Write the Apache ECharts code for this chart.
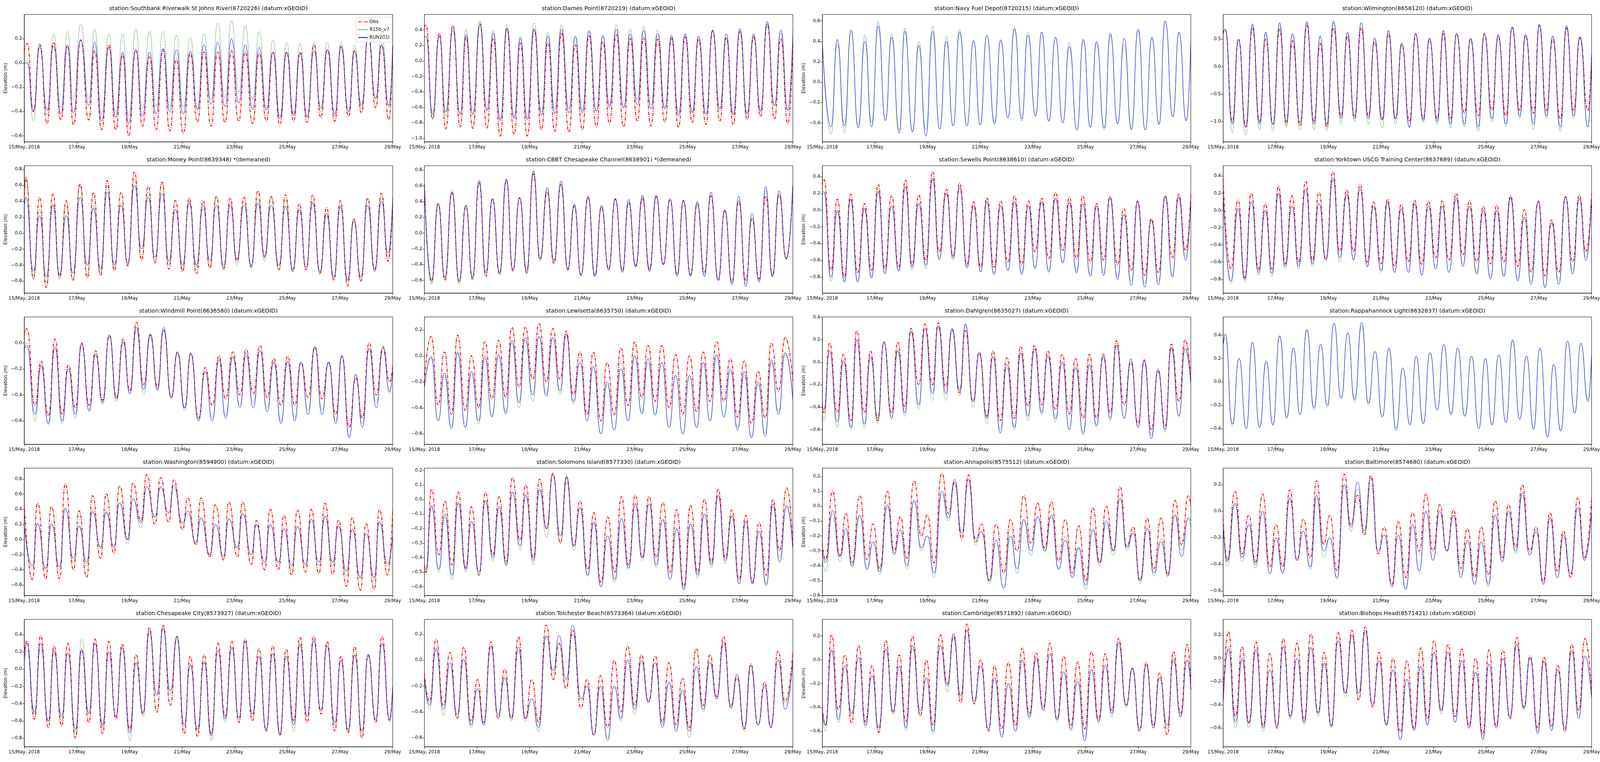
<!DOCTYPE html>
<html><head><meta charset="utf-8">
<script src="https://cdn.jsdelivr.net/npm/echarts@6/dist/echarts.min.js"></script>
<style>html,body{margin:0;padding:0;background:#fff;overflow:hidden;}#c{position:absolute;left:0;top:0;}</style>
</head><body><div id="c"></div>
<script>
// Time axis: hours since 15/May/2018 00:00 (0..336). Values: water elevation in cm (drawn as m).
const X_LABELS = ['15/May, 2018','17/May','19/May','21/May','23/May','25/May','27/May','29/May'];
const SERIES_NAMES = ['Obs','R15b_v7','RUN201l'];
const TITLES = [
 'station:Southbank Riverwalk St Johns River(8720226) (datum:xGEOID)',
 'station:Dames Point(8720219) (datum:xGEOID)',
 'station:Navy Fuel Depot(8720215) (datum:xGEOID)',
 'station:Wilmington(8658120) (datum:xGEOID)',
 'station:Money Point(8639348) *(demeaned)',
 'station:CBBT Chesapeake Channel(8638901) *(demeaned)',
 'station:Sewells Point(8638610) (datum:xGEOID)',
 'station:Yorktown USCG Training Center(8637689) (datum:xGEOID)',
 'station:Windmill Point(8636580) (datum:xGEOID)',
 'station:Lewisetta(8635750) (datum:xGEOID)',
 'station:Dahlgren(8635027) (datum:xGEOID)',
 'station:Rappahannock Light(8632837) (datum:xGEOID)',
 'station:Washington(8594900) (datum:xGEOID)',
 'station:Solomons Island(8577330) (datum:xGEOID)',
 'station:Annapolis(8575512) (datum:xGEOID)',
 'station:Baltimore(8574680) (datum:xGEOID)',
 'station:Chesapeake City(8573927) (datum:xGEOID)',
 'station:Tolchester Beach(8573364) (datum:xGEOID)',
 'station:Cambridge(8571892) (datum:xGEOID)',
 'station:Bishops Head(8571421) (datum:xGEOID)'
];
const Y_MIN = [-0.65,-1.045,-0.586,-1.37,-0.75,-0.76,-0.99,-0.96,-0.78,-0.68,-0.73,-0.534,-0.74,-0.66,-0.60,-0.635,-0.90,-0.668,-0.73,-0.76];
const Y_MAX = [0.40,0.60,0.664,0.95,0.846,0.855,0.53,0.52,0.20,0.30,0.402,0.556,0.945,0.215,0.255,0.325,0.577,0.314,0.34,0.334];
const Y_TICKS = [
 [-0.6,-0.4,-0.2,0,0.2],[-1.0,-0.8,-0.6,-0.4,-0.2,0,0.2,0.4],[-0.4,-0.2,0,0.2,0.4,0.6],[-1.0,-0.5,0,0.5],
 [-0.6,-0.4,-0.2,0,0.2,0.4,0.6,0.8],[-0.6,-0.4,-0.2,0,0.2,0.4,0.6,0.8],[-0.8,-0.6,-0.4,-0.2,0,0.2,0.4],[-0.8,-0.6,-0.4,-0.2,0,0.2,0.4],
 [-0.6,-0.4,-0.2,0],[-0.6,-0.4,-0.2,0,0.2],[-0.6,-0.4,-0.2,0,0.2,0.4],[-0.4,-0.2,0,0.2,0.4],
 [-0.6,-0.4,-0.2,0,0.2,0.4,0.6,0.8],[-0.6,-0.5,-0.4,-0.3,-0.2,-0.1,0,0.1,0.2],[-0.6,-0.5,-0.4,-0.3,-0.2,-0.1,0,0.1,0.2],[-0.6,-0.4,-0.2,0,0.2],
 [-0.8,-0.6,-0.4,-0.2,0,0.2,0.4],[-0.6,-0.4,-0.2,0,0.2],[-0.6,-0.4,-0.2,0,0.2],[-0.6,-0.4,-0.2,0,0.2]
];

// ---- Panel 1 Southbank Riverwalk
const T1=[0,2.8,8.3,14.2,20.8,26.7,33.5,39.4,44.9,51.5,58.8,64.2,70.6,77.2,83.4,89.8,95.2,101.8,107.7,114.3,120.2,126.6,132.7,138.7,145.0,151.4,158.0,163.9,170.3,176.4,183.1,189.0,195.6,201.5,208.3,214.2,220.8,226.8,233.1,239.3,245.6,251.6,257.9,264.3,270.5,276.4,283.2,288.9,295.8,301.2,307.5,313.7,320.5,325.9,332.6,336];
const OBS1=[10,16,-40,15,-50,17,-47,15,-51,19,-47,10,-55,15,-55,7,-60,11,-52,5,-55,11,-56,3,-58,8,-49,9,-52,9,-49,10,-48,9,-50,8,-48,9,-51,9,-48,9,-49,15,-45,11,-48,14,-44,10,-41,22,-37,15,-47,15];
const R15_1=[0,2,-48,16,-43,24,-37,26,-30,32,-29,28,-42,24,-42,24,-44,28,-37,26,-36,26,-36,23,-37,21,-39,24,-30,33,-29,35,-24,31,-30,26,-38,19,-44,17,-42,16,-45,17,-40,17,-43,17,-40,15,-38,26,-30,24,-37,10];
const RUN1=[0,0,-40,13,-39,14,-42,14,-41,19,-35,17,-48,13,-45,9,-50,11,-44,9,-42,12,-40,11,-42,10,-38,15,-34,17,-36,20,-33,15,-38,13,-39,9,-46,9,-43,8,-44,10,-37,11,-42,13,-40,10,-35,22,-29,15,-35,15];
// ---- Panel 2 Dames Point
const T2=[0,1.4,7.5,13.6,19.5,26.0,32.6,38.0,44.1,50.7,57.0,62.8,69.2,75.3,81.8,87.5,93.8,100.1,106.7,112.6,118.9,125.0,131.8,137.6,144.0,150.1,156.9,162.7,168.8,174.9,181.7,187.6,194.2,200.0,206.6,212.7,219.3,225.4,231.7,237.8,244.3,250.0,256.8,262.9,269.4,275.3,281.6,287.7,294.3,300.2,306.5,312.6,319.2,325.0,331.4,336];
const OBS2=[43,47,-75,36,-88,46,-85,31,-87,48,-87,29,-97,42,-95,23,-97,41,-89,24,-91,36,-92,21,-89,33,-85,25,-81,34,-85,29,-78,30,-84,28,-79,29,-86,31,-80,28,-82,39,-78,30,-82,38,-76,31,-72,47,-75,29,-81,20];
const R15_2=[30,32,-75,32,-71,46,-69,41,-68,52,-63,40,-75,47,-72,32,-73,49,-66,37,-62,47,-62,33,-64,40,-64,33,-57,47,-60,41,-50,45,-57,40,-60,34,-67,35,-66,32,-68,38,-65,30,-71,39,-70,33,-64,48,-58,36,-63,30];
const RUN2=[30,32,-69,32,-66,40,-69,34,-69,46,-64,36,-77,42,-74,29,-76,41,-70,32,-68,41,-67,31,-67,38,-65,32,-60,41,-61,35,-57,39,-62,35,-62,32,-71,35,-67,32,-69,40,-62,35,-69,42,-68,35,-65,51,-58,40,-64,40];
// ---- Panel 3 Navy Fuel Depot (no obs)
const T3=[0,7.9,13.6,20.1,26.2,32.7,38.8,44.9,50.9,57.5,63.1,70.1,75.2,82.2,87.9,94.4,100.5,107.0,113.1,119.2,125.2,131.8,137.9,143.9,150.0,157.0,162.6,169.2,175.2,181.8,187.4,194.4,200.0,206.5,212.6,219.2,225.2,232.2,237.9,244.4,250.0,257.0,262.6,269.2,275.2,281.8,287.9,294.4,300.5,307.0,312.6,319.6,325.2,331.8,336];
const OBS3=null;
const R15_3=[37,-51,38,-50,49,-42,46,-40,59,-37,47,-47,53,-48,40,-47,55,-46,45,-43,52,-43,40,-42,46,-42,42,-35,54,-38,49,-34,49,-39,44,-40,39,-47,41,-45,38,-47,46,-40,37,-47,50,-47,43,-42,60,-34,48,-37,35];
const RUN3=[40,-44,42,-43,51,-45,40,-44,55,-38,44,-50,50,-49,36,-53,50,-46,40,-43,49,-43,41,-42,46,-40,41,-35,52,-36,46,-33,49,-38,44,-40,35,-47,42,-44,40,-45,48,-41,43,-46,52,-47,44,-41,60,-34,49,-38,43];
// ---- Panel 4 Wilmington
const T4=[0,1.9,8.4,14.0,20.6,26.7,33.2,38.8,45.4,51.5,57.6,63.2,70.2,76.3,82.8,88.5,94.5,100.6,107.6,113.3,119.8,125.9,132.4,138.1,145.1,150.7,157.2,162.9,169.9,175.5,182.5,188.1,195.2,200.8,207.3,212.9,220.0,225.6,232.6,238.2,245.2,250.8,257.9,263.5,270.5,275.7,283.1,288.3,294.8,300.5,307.5,313.1,319.6,325.3,332.7,336];
const OBS4=[60,68,-100,50,-110,70,-100,50,-105,68,-105,47,-108,75,-100,42,-110,70,-90,55,-95,70,-90,45,-95,60,-95,40,-100,60,-95,50,-95,60,-95,60,-85,50,-90,60,-80,55,-90,72,-80,57,-85,75,-80,50,-95,70,-80,52,-80,20];
const R15_4=[60,68,-120,50,-125,75,-115,60,-117,75,-110,58,-115,80,-115,55,-117,80,-105,60,-100,80,-105,52,-112,65,-105,43,-112,60,-102,52,-105,65,-112,60,-110,50,-118,60,-100,58,-110,70,-95,58,-115,75,-95,55,-118,72,-95,52,-110,20];
const RUN4=[60,68,-105,50,-110,78,-105,63,-105,80,-100,60,-102,82,-105,56,-105,83,-95,63,-90,80,-95,52,-98,66,-95,43,-110,60,-98,52,-100,66,-105,60,-105,52,-110,60,-95,58,-105,72,-90,58,-105,77,-90,56,-110,75,-90,55,-110,30];
// ---- Panel 5 Money Point
const T5=[0,1.4,8.4,14.0,20.1,26.2,32.2,38.3,44.4,50.9,57.5,63.1,69.6,75.7,82.2,88.3,94.4,100.5,107.0,113.1,119.2,125.7,131.8,137.9,144.4,150.5,157.0,163.1,169.2,175.2,181.8,187.9,193.9,200.5,207.0,213.1,219.2,225.2,232.2,238.3,244.9,250.9,257.0,263.1,269.6,275.7,282.3,288.3,294.9,300.5,307.0,313.1,319.6,325.7,331.8,336];
const OBS5=[40,69,-56,45,-68,49,-55,41,-59,62,-56,51,-53,66,-47,51,-41,77,-34,59,-37,64,-45,41,-48,44,-51,41,-44,46,-44,44,-35,45,-42,53,-30,46,-46,48,-48,37,-46,48,-50,32,-59,41,-66,18,-60,44,-45,50,-35,36];
const R15_5=[45,72,-58,30,-62,37,-58,33,-58,59,-52,33,-50,60,-45,38,-40,68,-30,52,-35,62,-40,30,-45,40,-43,31,-42,46,-47,38,-40,40,-44,44,-35,44,-45,42,-49,30,-43,40,-52,22,-58,35,-60,19,-58,43,-47,45,-30,40];
const RUN5=[30,45,-48,22,-55,35,-52,22,-50,45,-40,31,-45,52,-40,35,-38,60,-20,45,-30,50,-35,30,-40,38,-40,35,-35,35,-41,35,-33,35,-40,38,-28,35,-40,34,-45,30,-43,38,-48,25,-55,33,-58,15,-55,35,-48,40,-25,45];
// ---- Panel 6 CBBT
const T6=[0,6.5,12.6,18.7,25.2,31.7,37.8,43.9,49.9,56.0,62.1,68.6,74.7,80.7,86.8,93.3,99.4,105.5,112.0,118.1,124.6,130.7,136.7,142.8,149.3,155.4,161.5,168.0,174.1,180.6,186.2,192.7,198.8,205.3,211.4,217.9,224.0,230.5,236.2,242.7,248.8,255.3,261.3,267.9,273.9,280.5,286.6,293.1,298.7,305.2,311.3,317.4,323.4,330.0,336];
const OBS6=[62,-62,38,-60,51,-62,34,-58,64,-55,43,-52,67,-48,45,-50,75,-33,52,-39,62,-46,34,-53,45,-54,33,-46,43,-48,39,-41,44,-46,46,-39,42,-52,41,-53,37,-50,47,-60,28,-62,40,-60,18,-58,47,-55,49,-32,60];
const R15_6=[60,-65,36,-58,55,-65,36,-60,68,-52,44,-50,69,-47,44,-52,77,-36,55,-37,60,-48,35,-53,45,-52,33,-44,43,-47,40,-42,46,-47,45,-40,42,-52,42,-53,38,-53,48,-58,28,-62,42,-65,20,-60,55,-52,49,-33,60];
const RUN6=[62,-60,36,-56,52,-60,35,-56,66,-50,44,-52,68,-46,45,-47,79,-32,58,-35,66,-45,37,-54,47,-55,35,-47,44,-50,43,-43,48,-49,48,-40,44,-55,42,-55,40,-55,52,-60,30,-65,47,-68,25,-62,59,-55,54,-33,65];
// ---- Panel 7 Sewells Point
const T7=[0,1.4,7.9,13.6,20.1,25.7,32.2,38.3,44.9,50.9,57.0,63.1,69.6,75.7,81.8,87.9,94.4,100.5,106.5,113.1,119.2,125.2,131.8,137.9,144.4,150.0,156.5,162.6,169.2,175.2,181.8,187.9,193.9,200.0,206.5,212.6,219.2,225.2,231.8,237.4,244.4,250.0,256.5,262.2,269.2,274.8,281.8,287.4,293.9,300.0,306.5,312.6,319.2,324.8,331.3,336];
const OBS7=[30,37,-72,13,-80,19,-75,8,-72,31,-70,17,-68,36,-65,18,-60,46,-50,25,-55,32,-65,10,-68,15,-68,11,-62,17,-65,11,-50,14,-58,21,-48,15,-58,17,-62,8,-60,16,-65,2,-72,11,-78,-10,-75,17,-57,19,-48,20];
const R15_7=[18,20,-85,-2,-87,12,-87,0,-82,25,-77,5,-72,28,-72,8,-70,37,-60,20,-60,27,-70,5,-73,10,-75,5,-72,10,-75,5,-68,10,-72,14,-62,10,-73,8,-77,5,-75,14,-80,-5,-85,10,-88,-12,-85,15,-78,15,-55,15];
const RUN7=[20,22,-80,0,-85,13,-85,2,-80,22,-75,5,-73,28,-68,8,-66,38,-58,20,-57,27,-68,5,-74,10,-77,5,-72,10,-77,5,-70,10,-74,14,-63,9,-75,8,-79,5,-78,15,-83,-5,-90,10,-92,-12,-89,17,-80,16,-60,15];
// ---- Panel 8 Yorktown
const T8=[0,7.0,13.6,19.7,25.7,32.3,38.4,44.5,50.5,56.6,62.7,68.8,75.3,81.4,87.5,93.6,100.2,106.2,112.8,118.9,124.9,131.5,137.1,144.1,149.8,156.3,162.4,168.9,174.6,181.1,187.2,193.8,199.8,205.9,212.5,218.6,224.6,231.2,237.3,243.8,249.4,256.0,262.1,268.6,274.7,280.8,287.4,293.4,299.5,306.1,312.2,318.7,324.8,330.9,336];
const OBS8=[37,-68,12,-78,20,-68,8,-68,28,-62,17,-60,34,-58,21,-57,45,-48,24,-48,30,-60,10,-62,13,-65,7,-60,12,-63,11,-55,11,-58,20,-52,11,-60,5,-62,6,-60,17,-65,1,-72,11,-76,-11,-72,16,-60,18,-48,20];
const R15_8=[20,-85,0,-83,10,-75,0,-77,20,-68,5,-68,25,-65,8,-60,35,-60,20,-58,25,-66,5,-72,8,-72,2,-72,8,-75,5,-68,5,-72,13,-62,5,-72,0,-78,0,-75,14,-80,-8,-83,10,-88,-15,-82,15,-70,13,-55,15];
const RUN8=[20,-82,2,-80,10,-72,0,-73,20,-65,5,-65,25,-62,8,-57,38,-55,18,-57,25,-65,5,-70,10,-72,2,-72,8,-75,5,-68,5,-72,15,-65,5,-74,0,-80,0,-77,15,-82,-8,-86,10,-90,-14,-86,16,-74,14,-58,15];
// ---- Panel 9 Windmill Point
const T9=[0,2.3,9.8,15.4,22.0,28.0,34.6,40.2,46.7,52.3,59.3,65.0,71.5,77.6,84.1,90.2,96.3,102.3,108.9,115.0,121.5,127.1,134.1,139.7,146.3,151.9,158.9,165.0,171.5,177.6,183.6,190.2,196.7,202.3,208.9,215.0,221.5,227.6,234.1,240.2,246.7,252.3,258.9,265.0,271.5,277.6,284.1,289.7,296.3,302.3,308.4,314.5,321.0,327.1,333.2,336];
const OBS9=[5,11,-48,-14,-56,3,-55,-17,-50,0,-48,-6,-44,6,-42,3,-37,16,-32,6,-34,10,-42,-7,-50,-8,-58,-19,-48,-10,-43,-7,-40,-5,-39,-2,-42,-12,-48,-10,-48,-15,-42,-3,-43,-15,-55,-10,-65,-27,-58,0,-40,-3,-30,-17];
const R15_9=[-5,0,-60,-18,-63,-5,-62,-20,-58,-1,-53,-8,-47,5,-45,0,-39,10,-40,5,-37,9,-43,-8,-52,-9,-60,-22,-58,-12,-56,-10,-48,-10,-46,-6,-50,-15,-60,-15,-58,-15,-52,-4,-52,-15,-60,-10,-72,-25,-62,-5,-46,-6,-37,-20];
const RUN9=[-5,-2,-55,-17,-62,-3,-60,-20,-55,-1,-52,-9,-46,6,-43,1,-39,12,-36,7,-36,12,-42,-7,-50,-8,-60,-22,-60,-13,-58,-11,-50,-8,-50,-6,-53,-15,-62,-14,-60,-15,-55,-3,-55,-15,-62,-10,-73,-24,-65,-4,-50,-4,-38,-20];
// ---- Panel 10 Lewisetta
const T10=[0,6.1,12.6,18.2,24.7,30.3,37.3,42.9,49.5,55.1,61.6,67.7,74.2,79.8,86.3,91.9,98.9,104.5,111.1,117.1,123.7,129.3,135.8,141.9,148.4,154.0,161.0,166.6,173.1,179.2,185.7,191.8,198.3,203.9,210.5,216.5,223.1,229.1,235.7,241.7,248.3,254.3,260.4,266.5,273.0,279.1,285.6,291.7,298.2,304.3,310.8,316.4,322.9,329.0,336];
const OBS10=[-20,15,-38,3,-45,16,-42,0,-40,11,-33,12,-32,22,-24,22,-18,25,-20,21,-18,19,-30,3,-45,3,-50,-5,-45,6,-38,11,-32,8,-35,8,-40,1,-45,0,-43,3,-35,11,-35,-2,-47,-4,-52,-12,-48,10,-27,14,-20];
const R15_10=[-25,0,-50,-15,-57,2,-55,-14,-52,-2,-46,0,-45,10,-40,12,-35,15,-32,14,-30,16,-37,-5,-50,-8,-60,-22,-57,-5,-50,0,-45,-5,-46,-5,-55,-15,-60,-15,-55,-5,-50,0,-47,-12,-55,-15,-62,-22,-60,-5,-43,3,-33];
const RUN10=[-25,-1,-50,-13,-55,3,-55,-12,-50,0,-47,1,-44,12,-36,14,-30,15,-30,14,-27,17,-35,-5,-50,-8,-60,-20,-57,-10,-50,0,-44,-2,-45,-5,-55,-15,-60,-15,-55,-5,-50,1,-47,-10,-57,-12,-63,-20,-62,-3,-45,2,-35];
// ---- Panel 11 Dahlgren
const T11=[0,1.4,6.5,13.6,19.2,26.2,31.3,38.3,43.9,50.5,56.1,63.1,68.7,75.2,80.8,87.9,93.5,100.5,105.6,112.6,118.2,125.2,130.4,137.4,143.0,150.0,155.6,162.2,168.2,175.2,180.8,187.4,193.5,200.0,205.6,212.6,218.7,225.2,230.8,237.9,243.5,250.0,256.1,262.6,268.2,275.2,281.3,287.9,293.5,300.0,306.1,312.6,318.2,325.2,330.8,336];
const OBS11=[-38,-45,17,-45,7,-52,28,-45,10,-52,18,-45,18,-40,30,-20,34,-20,35,-22,29,-27,28,-35,9,-48,10,-52,4,-50,14,-39,15,-38,10,-42,7,-46,3,-50,7,-50,7,-45,19,-38,0,-55,2,-60,-8,-57,16,-35,20,-15];
const R15_11=[-45,-52,10,-58,0,-60,20,-58,5,-55,18,-50,12,-48,28,-42,30,-34,32,-34,28,-30,33,-40,8,-55,5,-60,-5,-60,10,-52,12,-47,5,-53,0,-60,-3,-65,-2,-58,5,-52,17,-50,0,-58,0,-65,-5,-62,12,-48,15,-20];
const RUN11=[-38,-42,10,-53,1,-58,20,-55,5,-50,18,-50,10,-45,27,-38,30,-28,32,-28,30,-25,34,-35,8,-50,5,-63,-2,-58,8,-48,12,-45,6,-50,0,-60,-5,-63,-2,-56,5,-50,15,-50,3,-58,2,-68,-7,-60,13,-48,12,-20];
// ---- Panel 12 Rappahannock Light (no obs)
const T12=[0,1.9,8.4,14.5,21.1,26.7,33.2,39.3,45.4,51.5,58.0,64.1,70.2,76.3,82.8,88.9,95.0,101.1,107.6,113.7,119.8,126.4,132.4,138.5,145.1,151.2,157.7,163.8,170.4,176.0,182.5,188.6,195.2,201.2,207.8,213.9,220.4,226.5,233.1,239.1,245.2,251.3,257.9,263.9,270.5,276.6,283.1,288.8,295.8,301.4,307.9,314.0,320.6,326.2,332.7,336];
const OBS12=null;
const R15_12=[30,38,-38,20,-40,34,-38,19,-36,40,-30,29,-28,44,-24,32,-22,50,-14,42,-17,48,-20,26,-30,28,-42,12,-36,22,-35,25,-24,32,-27,29,-30,22,-40,20,-36,23,-34,35,-32,22,-41,29,-48,15,-42,35,-26,33,-15,20];
const RUN12=[30,41,-36,20,-40,34,-39,17,-37,39,-31,29,-28,45,-22,32,-20,50,-14,42,-15,51,-18,26,-30,29,-40,12,-37,22,-36,25,-24,32,-28,29,-29,22,-40,20,-37,23,-35,36,-32,22,-40,29,-47,15,-42,35,-27,33,-17,25];
// ---- Panel 13 Washington
const T13=[0,7.5,12.1,19.6,24.8,32.2,37.4,44.9,50.0,57.0,62.2,69.6,74.8,81.8,86.9,94.4,99.1,106.5,111.7,119.2,124.3,131.8,136.4,144.4,149.1,156.5,161.2,169.2,174.3,181.8,186.5,194.4,199.1,207.0,211.7,219.2,224.3,231.8,236.9,243.9,249.1,256.5,261.7,268.7,274.3,281.3,286.5,293.9,299.1,306.5,311.7,319.2,323.8,331.3,336];
const OBS13=[48,-53,48,-52,44,-52,74,-40,38,-50,58,-25,61,-18,71,0,75,25,86,20,82,23,79,13,55,-7,55,-23,46,-27,50,-23,50,-33,25,-40,40,-40,32,-47,39,-43,40,-45,48,-46,26,-62,29,-67,21,-66,40,-47,41];
const R15_13=[20,-40,22,-40,20,-40,42,-30,17,-35,42,-12,38,-10,50,-6,54,15,70,30,68,35,68,20,35,-3,30,-22,20,-25,28,-12,35,-20,20,-30,20,-30,15,-40,18,-35,27,-35,30,-35,18,-48,14,-52,8,-52,22,-35,5];
const RUN13=[20,-35,21,-38,21,-36,41,-25,18,-30,37,-10,36,-10,48,0,54,22,70,30,70,35,72,22,38,-5,28,-20,20,-22,27,-10,34,-20,20,-30,20,-30,14,-35,17,-33,27,-30,31,-30,18,-42,14,-50,8,-50,24,-32,5];
// ---- Panel 14 Solomons Island
const T14=[0,1.4,6.5,13.1,18.7,25.2,30.8,37.8,42.9,49.9,55.5,62.5,68.1,74.7,80.3,87.3,92.4,99.4,105.0,111.5,117.1,124.1,129.7,136.3,141.9,148.9,154.5,161.0,167.1,173.6,179.7,186.2,192.3,198.8,204.9,211.4,217.5,224.0,230.1,236.6,242.7,249.2,255.3,261.8,267.9,274.4,280.5,287.0,293.1,299.1,305.2,311.8,317.8,323.9,330.4,336];
const OBS14=[-45,-50,7,-38,-1,-45,5,-47,-5,-52,5,-38,2,-43,15,-28,10,-40,14,-20,18,-30,15,-32,-1,-48,-9,-57,-12,-50,2,-45,3,-40,2,-40,-2,-50,-7,-60,-4,-50,0,-43,7,-40,-7,-55,-11,-57,-16,-52,0,-35,8,-32];
const R15_14=[-48,-52,-5,-50,-12,-55,-3,-50,-15,-52,0,-42,-7,-46,5,-35,3,-45,6,-26,17,-30,12,-35,-5,-53,-15,-60,-25,-57,-13,-48,-3,-42,-3,-47,-13,-55,-20,-62,-17,-54,-10,-47,2,-44,-12,-58,-15,-58,-22,-58,-5,-40,-5,-35];
const RUN14=[-45,-48,-4,-48,-10,-52,-2,-48,-15,-50,-1,-40,-5,-45,5,-32,3,-42,7,-20,17,-25,16,-32,-6,-52,-16,-60,-25,-55,-13,-47,-3,-40,-3,-45,-14,-55,-20,-62,-17,-52,-10,-45,3,-42,-11,-58,-15,-58,-22,-59,-3,-43,-4,-35];
// ---- Panel 15 Annapolis
const T15=[0,2.8,9.3,15.9,21.5,27.1,34.1,40.7,46.3,52.3,59.3,65.4,71.0,77.1,83.6,90.2,95.8,101.9,108.9,115.0,120.6,127.1,133.2,139.7,145.3,152.3,158.4,165.4,171.5,177.6,183.6,190.2,196.3,202.8,208.9,215.4,221.5,228.0,233.6,240.2,246.7,252.8,258.9,265.4,271.5,277.6,283.6,289.7,296.3,302.3,308.9,315.0,321.5,327.6,333.7,336];
const OBS15=[-25,-36,10,-33,-5,-38,7,-36,-12,-42,10,-30,-7,-35,17,-20,-6,-38,22,-5,16,-22,21,-24,-12,-50,-12,-45,-9,-30,7,-25,2,-28,3,-37,-9,-45,-13,-50,-1,-38,0,-30,13,-27,-14,-50,-8,-42,-8,-47,4,-26,7,0];
const R15_15=[-35,-44,-5,-37,-17,-41,-7,-43,-24,-46,0,-33,-16,-42,3,-30,-20,-48,8,-10,15,-20,15,-26,-18,-52,-25,-55,-15,-45,-10,-33,-7,-31,-7,-43,-20,-48,-27,-56,-15,-40,-12,-33,6,-30,-17,-52,-15,-47,-22,-47,-5,-30,-8,-15];
const RUN15=[-30,-38,-3,-34,-15,-40,-6,-42,-24,-44,1,-32,-16,-40,4,-28,-20,-45,10,-8,18,-18,18,-22,-17,-50,-23,-55,-20,-42,-9,-30,-7,-30,-6,-42,-23,-48,-28,-53,-16,-38,-10,-30,5,-28,-18,-50,-15,-45,-24,-45,-6,-34,-8,-10];
// ---- Panel 16 Baltimore
const T16=[0,3.7,10.8,17.3,23.4,29.5,36.0,42.6,48.2,54.3,60.8,67.4,73.0,79.6,85.2,91.7,97.3,103.9,110.4,116.5,122.6,128.7,134.8,141.3,147.0,154.0,159.6,166.6,172.7,178.8,184.9,191.4,197.5,204.0,210.1,216.7,222.8,229.3,235.4,241.9,248.0,254.6,260.2,266.8,272.8,279.4,285.5,292.0,298.1,304.7,310.3,316.8,323.4,329.5,336];
const OBS16=[-5,-37,15,-32,-3,-38,13,-42,-10,-42,16,-37,-6,-35,23,-25,-3,-45,28,-10,12,-18,27,-32,-12,-55,-8,-50,-1,-30,13,-30,5,-30,1,-43,-13,-50,-12,-48,8,-35,5,-27,20,-30,-12,-53,-1,-45,-15,-50,10,-35,11];
const R15_16=[-10,-42,5,-38,-10,-43,0,-47,-20,-46,10,-37,-15,-44,10,-35,-20,-51,20,-15,17,-18,20,-30,-18,-57,-18,-58,-10,-45,0,-37,0,-30,-3,-48,-22,-55,-23,-57,-3,-38,0,-32,12,-33,-15,-55,-5,-50,-20,-48,3,-37,0];
const RUN16=[-10,-38,6,-35,-10,-40,0,-47,-20,-47,10,-37,-15,-42,12,-30,-20,-50,20,-12,22,-15,25,-30,-18,-57,-18,-59,-10,-45,0,-37,0,-30,-3,-50,-22,-55,-23,-55,-3,-38,0,-30,14,-33,-15,-55,-5,-50,-18,-47,3,-37,0];
// ---- Panel 17 Chesapeake City
const T17=[0,2.3,9.3,15.0,22.0,27.1,34.1,39.7,46.7,52.3,58.9,64.5,71.5,77.1,83.6,89.3,96.3,101.9,108.4,114.0,121.0,126.6,133.2,139.3,145.8,151.4,158.0,164.0,170.6,176.6,183.2,189.3,195.8,201.4,208.0,214.0,220.6,226.6,233.2,238.8,245.8,251.4,258.0,264.0,270.6,276.2,283.2,288.8,295.3,301.4,308.0,313.6,320.6,326.2,333.2,336];
const OBS17=[15,33,-58,39,-68,27,-66,30,-80,23,-62,35,-75,32,-58,29,-70,17,-52,48,-50,51,-42,38,-75,15,-78,17,-75,30,-55,32,-62,35,-60,24,-72,27,-76,23,-60,37,-62,38,-52,32,-72,15,-74,26,-80,16,-62,38,-60,-20];
const R15_17=[5,22,-52,25,-62,20,-60,20,-75,35,-50,30,-68,20,-55,25,-83,8,-55,42,-30,46,-30,35,-70,5,-72,10,-83,22,-62,25,-60,32,-55,15,-72,18,-78,15,-72,30,-55,33,-48,27,-65,10,-72,17,-75,18,-60,30,-60,-20];
const RUN17=[10,30,-50,30,-60,22,-55,18,-70,22,-52,30,-65,20,-55,25,-74,7,-50,45,-30,48,-25,38,-65,5,-70,8,-77,22,-58,25,-57,32,-52,15,-70,18,-75,15,-65,28,-55,33,-48,27,-62,10,-70,16,-72,17,-58,30,-58,-20];
// ---- Panel 18 Tolchester Beach
const T18=[0,4.7,10.7,17.3,23.3,29.9,35.9,42.5,48.5,54.1,60.7,67.2,73.3,79.3,85.9,91.9,98.0,104.1,111.1,117.6,122.7,129.3,135.3,142.8,148.4,154.5,160.5,167.1,173.1,179.2,185.3,191.8,197.9,204.4,210.5,217.0,223.1,229.6,235.2,241.7,247.8,254.3,260.4,266.5,273.0,279.5,285.1,291.7,297.7,304.3,310.3,315.9,322.5,329.0,336];
const OBS18=[-10,-32,16,-35,6,-45,10,-47,-15,-48,14,-45,-7,-45,18,-45,-15,-48,27,-15,13,-22,23,-37,-15,-58,-12,-52,0,-40,11,-35,4,-32,3,-48,-2,-50,-14,-52,9,-35,4,-28,18,-37,-13,-53,-3,-50,-17,-52,7,-32,7];
const R15_18=[-15,-38,8,-43,-5,-45,0,-52,-22,-50,10,-45,-12,-47,8,-47,-30,-55,18,-10,13,-20,20,-30,-20,-58,-20,-60,-20,-47,0,-42,-2,-33,-2,-50,-18,-53,-25,-60,-5,-40,0,-30,12,-37,-15,-55,-7,-50,-20,-50,0,-35,0];
const RUN18=[-12,-35,9,-38,-2,-42,1,-50,-22,-50,11,-42,-14,-45,10,-45,-30,-52,19,-8,19,-15,27,-30,-20,-58,-20,-62,-20,-45,0,-38,0,-32,-2,-52,-17,-55,-23,-55,-5,-38,-2,-30,14,-35,-11,-52,-4,-50,-20,-52,0,-38,0];
// ---- Panel 19 Cambridge
const T19=[0,2.8,8.4,14.5,20.6,26.6,33.2,39.3,45.3,51.4,57.9,64.5,70.1,76.2,82.2,89.3,94.9,100.9,107.5,114.0,119.6,126.2,131.8,138.3,144.4,151.4,157.0,163.6,169.6,176.2,182.2,188.8,194.9,201.4,207.5,214.0,220.1,226.6,232.7,239.3,245.3,251.9,257.9,264.0,270.1,277.1,282.7,289.3,295.3,301.9,307.5,314.5,320.1,326.6,332.7,336];
const OBS19=[-40,-55,21,-42,4,-53,12,-52,-5,-61,16,-45,4,-52,20,-47,0,-55,21,-20,20,-36,30,-37,0,-60,-5,-58,-2,-55,10,-45,6,-40,14,-50,3,-55,-2,-58,7,-50,5,-43,18,-38,-7,-60,-2,-55,-11,-63,7,-45,13,-25];
const R15_19=[-45,-60,10,-53,-5,-47,2,-57,-13,-60,10,-45,-5,-59,10,-47,-15,-63,12,-27,18,-33,25,-37,-5,-60,-15,-63,-20,-60,0,-50,0,-43,5,-52,-10,-60,-15,-65,-8,-53,-5,-48,12,-40,-8,-60,-5,-58,-15,-58,2,-47,0,-25];
const RUN19=[-42,-55,8,-50,-5,-45,2,-55,-13,-57,9,-43,-5,-57,12,-43,-15,-60,12,-22,22,-30,25,-35,-5,-58,-15,-65,-20,-60,0,-48,2,-42,5,-50,-10,-58,-18,-68,-8,-52,-5,-45,15,-38,-7,-58,-4,-57,-15,-55,0,-48,0,-25];
// ---- Panel 20 Bishops Head
const T20=[0,4.7,11.2,17.3,23.4,30.0,36.5,42.6,49.1,54.8,61.3,67.4,73.9,80.0,86.6,92.2,98.7,104.8,111.4,117.5,123.6,129.6,136.2,142.3,148.8,154.9,161.5,167.5,174.1,180.2,186.3,192.3,198.9,205.0,211.5,217.6,224.2,230.3,236.8,242.4,249.0,255.1,261.6,267.7,274.2,279.9,286.9,292.5,299.5,305.1,311.7,317.8,324.3,329.9,336];
const OBS20=[-35,23,-50,10,-55,14,-58,4,-60,17,-50,13,-53,21,-47,5,-58,22,-30,24,-36,27,-42,5,-57,0,-64,-2,-60,9,-52,15,-45,12,-50,8,-58,0,-65,7,-58,7,-52,18,-42,2,-60,1,-58,-6,-63,12,-45,17,-30];
const R15_20=[-40,10,-60,-2,-60,8,-63,-10,-60,10,-52,0,-57,10,-50,-5,-60,15,-33,18,-35,22,-40,-2,-58,-10,-70,-18,-62,-7,-58,5,-48,5,-55,-2,-60,-12,-68,-5,-60,0,-52,12,-45,0,-63,-2,-62,-10,-62,8,-50,2,-35];
const RUN20=[-38,8,-55,0,-56,7,-60,-10,-58,10,-50,0,-55,9,-47,-4,-58,15,-30,20,-30,24,-40,-2,-57,-10,-70,-18,-62,-7,-57,5,-45,5,-55,-2,-60,-12,-70,-5,-60,0,-50,12,-43,0,-65,-3,-62,-10,-60,6,-52,2,-35];

const TIMES=[T1,T2,T3,T4,T5,T6,T7,T8,T9,T10,T11,T12,T13,T14,T15,T16,T17,T18,T19,T20];
const OBS=[OBS1,OBS2,OBS3,OBS4,OBS5,OBS6,OBS7,OBS8,OBS9,OBS10,OBS11,OBS12,OBS13,OBS14,OBS15,OBS16,OBS17,OBS18,OBS19,OBS20];
const R15=[R15_1,R15_2,R15_3,R15_4,R15_5,R15_6,R15_7,R15_8,R15_9,R15_10,R15_11,R15_12,R15_13,R15_14,R15_15,R15_16,R15_17,R15_18,R15_19,R15_20];
const RUN=[RUN1,RUN2,RUN3,RUN4,RUN5,RUN6,RUN7,RUN8,RUN9,RUN10,RUN11,RUN12,RUN13,RUN14,RUN15,RUN16,RUN17,RUN18,RUN19,RUN20];

// ---------- layout (designed for 5150x1950, scaled to the actual window) ----------
const VW = window.innerWidth || 5150, VH = window.innerHeight || 1950;
const SX = VW/5150, SY = VH/1950, SF = Math.min(1, (SX+SY)/2);
const el = document.getElementById('c'); el.style.width = VW+'px'; el.style.height = VH+'px';
const LEFTS=[78,1366,2647,3937], TOPS=[37,424,811,1198,1585], GW=1186, GH=326;
const FONT='DejaVu Sans';
const fmtY = v => (Math.round(v*10)/10).toFixed(1).replace('-', '\u2212');
function mk(t, v){ const n=Math.min(t.length, v.length); const out=[]; for(let k=0;k<n;k++) out.push([t[k], v[k]/100]); return out; }

const grids=[], xAxes=[], yAxes=[], titles=[], series=[];
const STY = [
  {color:'#ff0000', width:2.2, type:[8,3,2,3]},
  {color:'#008000', width:1, type:[3,2]},
  {color:'#0000ff', width:1, type:'solid'}
];
for(let i=0;i<20;i++){
  const r=Math.floor(i/4), c=i%4;
  const gl=LEFTS[c]*SX, gt=TOPS[r]*SY, gw=GW*SX, gh=GH*SY;
  grids.push({left:gl, top:gt, width:gw, height:gh, show:true, borderColor:'#000', borderWidth:1,
    backgroundColor:'transparent', outerBoundsMode:'none'});
  titles.push({text:TITLES[i], left:gl+gw/2, top:gt-22*SY, textAlign:'center', padding:0,
    textStyle:{fontFamily:FONT, fontSize:16*SF, fontWeight:'normal', color:'#000'}});
  xAxes.push({type:'value', gridIndex:i, min:0, max:336, interval:48,
    axisLine:{show:true, onZero:false, lineStyle:{color:'#000', width:1}},
    axisTick:{show:true, length:5, lineStyle:{color:'#000'}},
    axisLabel:{fontFamily:FONT, fontSize:13*SF, color:'#000', margin:8*SY, showMinLabel:true, showMaxLabel:true,
      formatter: v => X_LABELS[Math.round(v/48)]},
    splitLine:{show:false}});
  yAxes.push({type:'value', gridIndex:i, min:Y_MIN[i], max:Y_MAX[i],
    name: (c%2===0) ? 'Elevation (m)' : '', nameLocation:'middle', nameGap:52*SX,
    nameTextStyle:{fontFamily:FONT, fontSize:13*SF, color:'#000'},
    axisLine:{show:true, onZero:false, lineStyle:{color:'#000', width:1}},
    axisTick:{show:true, length:5, lineStyle:{color:'#000'}, customValues:Y_TICKS[i]},
    axisLabel:{fontFamily:FONT, fontSize:13*SF, color:'#000', margin:7*SX, customValues:Y_TICKS[i], formatter:fmtY},
    splitLine:{show:false}});
  const sets=[OBS[i], R15[i], RUN[i]];
  for(let s=0;s<3;s++){
    if(!sets[s]) continue;
    series.push({type:'line', name:SERIES_NAMES[s], xAxisIndex:i, yAxisIndex:i,
      data:mk(TIMES[i], sets[s]), symbol:'none', showSymbol:false,
      smooth:0.55, smoothMonotone:'x', clip:true,
      lineStyle:STY[s], itemStyle:{color:STY[s].color}, z:2+s, silent:true});
  }
}

const chart = echarts.init(el, null, {renderer:'canvas', width:VW, height:VH});
chart.setOption({
  animation:false,
  backgroundColor:'#fff',
  title:titles,
  grid:grids,
  xAxis:xAxes, yAxis:yAxes, series:series,
  legend:{data:SERIES_NAMES, orient:'vertical', left:1146*SX, top:44*SY, itemWidth:30*SX, itemHeight:12*SY, itemGap:8*SY,
    padding:[6*SY,8*SX,6*SY,6*SX], backgroundColor:'rgba(255,255,255,0.85)', borderColor:'#cccccc', borderWidth:1, borderRadius:4,
    itemStyle:{opacity:0},
    textStyle:{fontFamily:FONT, fontSize:13*SF, color:'#000'}, z:10}
});
</script></body></html>
